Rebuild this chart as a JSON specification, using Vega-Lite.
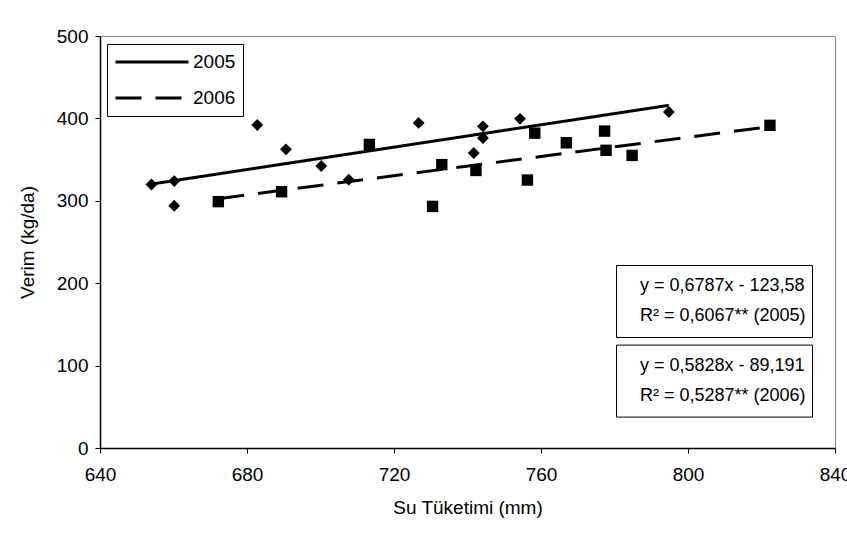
{
  "$schema": "https://vega.github.io/schema/vega-lite/v6.json",
  "width": 735,
  "height": 412,
  "autosize": {"type": "none"},
  "padding": {"left": 100, "top": 36, "right": 12, "bottom": 88},
  "background": "white",
  "config": {
    "font": "Liberation Sans",
    "view": {"stroke": "#808080", "strokeWidth": 1},
    "axis": {
      "grid": false,
      "domainColor": "black",
      "domainWidth": 1.5,
      "tickColor": "black",
      "tickSize": 5,
      "labelColor": "black",
      "titleColor": "black",
      "labelFont": "Liberation Sans",
      "titleFont": "Liberation Sans",
      "labelFontSize": 19,
      "titleFontSize": 19,
      "titleFontWeight": "normal"
    },
    "legend": {
      "labelFont": "Liberation Sans",
      "labelColor": "black",
      "labelFontSize": 19,
      "labelLimit": 400
    }
  },
  "datasets": {
    "points2005": [
      {"su": 654.0, "verim": 319.8},
      {"su": 660.2, "verim": 323.9},
      {"su": 660.2, "verim": 294.0},
      {"su": 682.8, "verim": 392.0},
      {"su": 690.6, "verim": 362.5},
      {"su": 700.2, "verim": 342.2},
      {"su": 707.7, "verim": 325.6},
      {"su": 726.7, "verim": 394.5},
      {"su": 741.7, "verim": 358.0},
      {"su": 744.2, "verim": 376.2},
      {"su": 744.2, "verim": 390.4},
      {"su": 754.3, "verim": 399.5},
      {"su": 794.8, "verim": 407.8}
    ],
    "points2006": [
      {"su": 672.2, "verim": 299.0},
      {"su": 689.4, "verim": 311.0},
      {"su": 713.3, "verim": 368.4},
      {"su": 730.5, "verim": 293.2},
      {"su": 733.0, "verim": 343.9},
      {"su": 742.3, "verim": 336.8},
      {"su": 756.3, "verim": 325.2},
      {"su": 758.3, "verim": 382.1},
      {"su": 766.9, "verim": 370.4},
      {"su": 777.3, "verim": 384.6},
      {"su": 777.7, "verim": 361.3},
      {"su": 784.8, "verim": 355.1},
      {"su": 822.3, "verim": 391.6}
    ],
    "trend": [
      {"series": "2005", "su": 654.0, "verim": 320.3},
      {"series": "2005", "su": 794.8, "verim": 415.9},
      {"series": "2006", "su": 672.2, "verim": 302.6},
      {"series": "2006", "su": 822.3, "verim": 390.1}
    ],
    "eq2005": [
      {"t": "y = 0,6787x - 123,58"},
      {"t": "R² = 0,6067** (2005)"}
    ],
    "eq2006": [
      {"t": "y = 0,5828x - 89,191"},
      {"t": "R² = 0,5287** (2006)"}
    ]
  },
  "layer": [
    {
      "data": {"name": "trend"},
      "mark": {"type": "line", "color": "black", "strokeWidth": 3},
      "encoding": {
        "x": {
          "field": "su", "type": "quantitative",
          "scale": {"domain": [640, 840], "nice": false, "zero": false},
          "axis": {"values": [640, 680, 720, 760, 800, 840], "title": "Su Tüketimi (mm)", "labelFlush": false, "labelPadding": 12, "titlePadding": 14}
        },
        "y": {
          "field": "verim", "type": "quantitative",
          "scale": {"domain": [0, 500], "nice": false},
          "axis": {"values": [0, 100, 200, 300, 400, 500], "title": "Verim (kg/da)", "labelPadding": 7, "titlePadding": 19}
        },
        "strokeDash": {
          "field": "series", "type": "nominal",
          "scale": {"domain": ["2005", "2006"], "range": [[1, 0], [26, 14]]},
          "legend": {
            "title": null,
            "orient": "none",
            "legendX": 7,
            "legendY": 8,
            "strokeColor": "black",
            "fillColor": "white",
            "padding": 7,
            "symbolType": "stroke",
            "symbolSize": 5329,
            "symbolStrokeWidth": 3,
            "symbolStrokeColor": "black",
            "labelOffset": 3,
            "clipHeight": 22,
            "rowPadding": 14
          }
        }
      }
    },
    {
      "data": {"name": "points2005"},
      "mark": {"type": "point", "shape": "diamond", "filled": true, "color": "black", "opacity": 1, "size": 140},
      "encoding": {
        "x": {"field": "su", "type": "quantitative"},
        "y": {"field": "verim", "type": "quantitative"}
      }
    },
    {
      "data": {"name": "points2006"},
      "mark": {"type": "point", "shape": "square", "filled": true, "color": "black", "opacity": 1, "size": 130},
      "encoding": {
        "x": {"field": "su", "type": "quantitative"},
        "y": {"field": "verim", "type": "quantitative"}
      }
    },
    {
      "data": {"name": "eq2005"},
      "mark": {"type": "point", "opacity": 0},
      "encoding": {
        "fill": {
          "field": "t", "type": "nominal", "sort": null,
          "legend": {
            "title": null,
            "orient": "none",
            "legendX": 516,
            "legendY": 229,
            "strokeColor": "black",
            "fillColor": "white",
            "padding": 6,
            "labelFontSize": 18,
            "symbolSize": 0,
            "symbolOpacity": 0,
            "symbolStrokeWidth": 0,
            "labelOffset": 0,
            "clipHeight": 30,
            "rowPadding": 0
          }
        }
      }
    },
    {
      "data": {"name": "eq2006"},
      "mark": {"type": "point", "opacity": 0},
      "encoding": {
        "stroke": {
          "field": "t", "type": "nominal", "sort": null,
          "legend": {
            "title": null,
            "orient": "none",
            "legendX": 516,
            "legendY": 308.6,
            "strokeColor": "black",
            "fillColor": "white",
            "padding": 6,
            "labelFontSize": 18,
            "symbolSize": 0,
            "symbolOpacity": 0,
            "symbolStrokeWidth": 0,
            "labelOffset": 0,
            "clipHeight": 30,
            "rowPadding": 0
          }
        }
      }
    }
  ]
}
